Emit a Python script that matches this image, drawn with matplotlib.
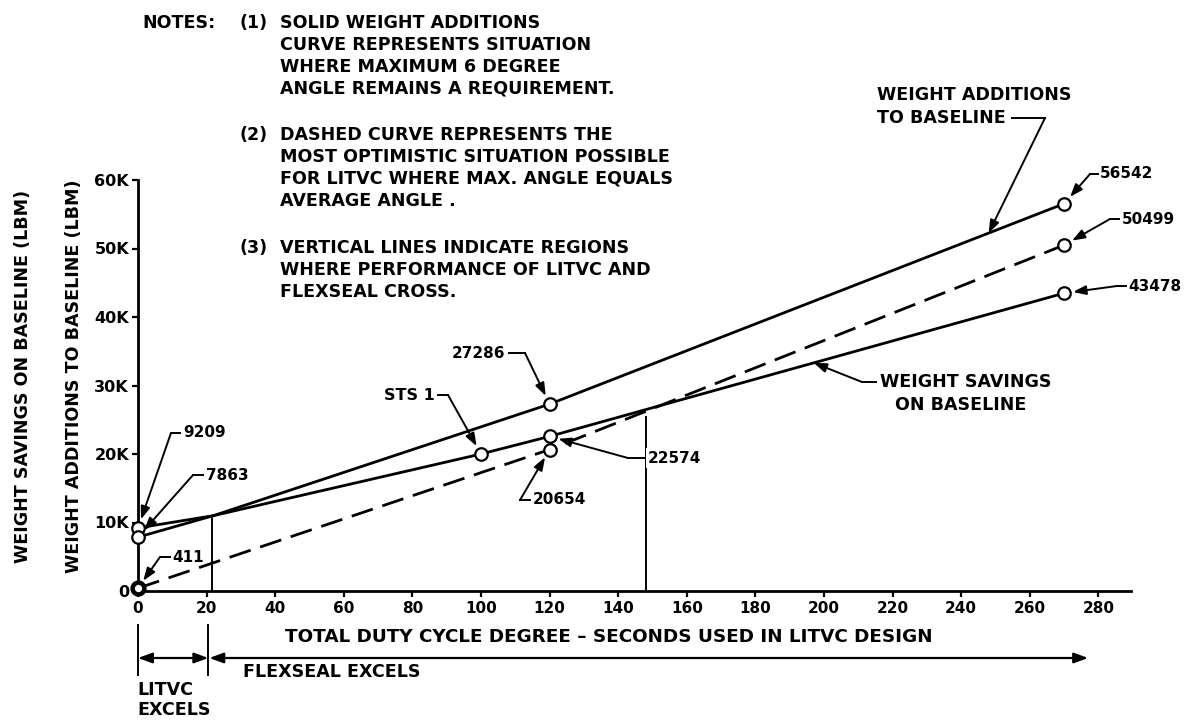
import matplotlib
matplotlib.use('Agg')
import matplotlib.pyplot as plt
import numpy as np
from matplotlib.lines import Line2D

# ---------------- data ----------------
x_ticks = list(range(0, 281, 20))
y_ticks = [0, 10000, 20000, 30000, 40000, 50000, 60000]
y_tick_labels = ['0', '10K', '20K', '30K', '40K', '50K', '60K']

# weight additions to baseline (solid, upper)
add_x = [0, 22, 120, 270]
add_y = [9209, 11000, 27286, 56542]
add_mark_x = [0, 120, 270]
add_mark_y = [9209, 27286, 56542]

# weight savings on baseline (solid, lower)
sav_x = [0, 22, 100, 120, 270]
sav_y = [7863, 11000, 20000, 22574, 43478]
sav_mark_x = [0, 100, 120, 270]
sav_mark_y = [7863, 20000, 22574, 43478]

# optimistic (dashed)
opt_x = [0, 120, 270]
opt_y = [411, 20654, 50499]

# vertical crossing lines
cross_x = [21.5, 148]
cross_top = [11000, 25600]

# point labels: text, x, y
point_labels = [('9209', 0, 9209), ('7863', 0, 7863), ('411', 0, 411),
                ('27286', 120, 27286), ('STS 1', 100, 20000),
                ('22574', 120, 22574), ('20654', 120, 20654),
                ('56542', 270, 56542), ('50499', 270, 50499),
                ('43478', 270, 43478)]

notes = [
    ('(1)', ['SOLID WEIGHT ADDITIONS', 'CURVE REPRESENTS SITUATION',
             'WHERE MAXIMUM 6 DEGREE', 'ANGLE REMAINS A REQUIREMENT.']),
    ('(2)', ['DASHED CURVE REPRESENTS THE', 'MOST OPTIMISTIC SITUATION POSSIBLE',
             'FOR LITVC WHERE MAX. ANGLE EQUALS', 'AVERAGE ANGLE .']),
    ('(3)', ['VERTICAL LINES INDICATE REGIONS', 'WHERE PERFORMANCE OF LITVC AND',
             'FLEXSEAL CROSS.']),
]

# ---------------- layout ----------------
W, H = 1192, 721
plt.rcParams['font.family'] = ['DejaVu Sans']
plt.rcParams['font.weight'] = 'bold'
FS = 11      # numbers
FT = 12.6    # capital text

fig = plt.figure(figsize=(W / 100, H / 100), dpi=100)
L, R, T, B = 138, 1131, 180, 591
ax = fig.add_axes([L / W, 1 - B / H, (R - L) / W, (B - T) / H])
ax.set_xlim(0, 289.5)
ax.set_ylim(0, 60000)
for s in ['top', 'right']:
    ax.spines[s].set_visible(False)
for s in ['left', 'bottom']:
    ax.spines[s].set_linewidth(2.0)
ax.set_xticks(x_ticks)
ax.set_xticklabels([str(v) for v in x_ticks])
ax.set_yticks(y_ticks)
ax.set_yticklabels(y_tick_labels)
ax.tick_params(axis='x', direction='out', length=4.5, width=1.6, labelsize=FS, pad=2.5)
ax.tick_params(axis='y', direction='out', length=4.5, width=1.6, labelsize=11.5, pad=2.0)
for lab in ax.get_xticklabels() + ax.get_yticklabels():
    lab.set_fontweight('bold')

lw = 2.0
ax.plot(add_x, add_y, color='k', lw=lw, solid_capstyle='round', zorder=3)
ax.plot(sav_x, sav_y, color='k', lw=lw, solid_capstyle='round', zorder=3)
ax.plot(opt_x, opt_y, color='k', lw=lw, linestyle=(0, (8, 3.6)), zorder=3)
ax.vlines(cross_x, 0, cross_top, color='k', lw=1.4, zorder=2)

mk = dict(marker='o', markersize=9, markerfacecolor='white', markeredgecolor='k',
          markeredgewidth=1.6, linestyle='none', zorder=5, clip_on=False)
ax.plot(add_mark_x, add_mark_y, **mk)
ax.plot(sav_mark_x, sav_mark_y, **mk)
ax.plot(opt_x[1:], opt_y[1:], **mk)
ax.plot(opt_x[:1], opt_y[:1], **dict(mk, markeredgewidth=3.2, markersize=8.5))


def fx(px):
    return px / W


def fy(py):
    return 1 - py / H


def ftext(px, py, s, ha='left', size=FT, **kw):
    return fig.text(fx(px), fy(py), s, ha=ha, va='center', fontsize=size,
                    fontweight='bold', **kw)


def stub(x0, y0, x1, y1):
    fig.add_artist(Line2D([fx(x0), fx(x1)], [fy(y0), fy(y1)], color='k', lw=1.4,
                          transform=fig.transFigure))


# label layout (pixels, top-left origin): elbow, stub end, text pos, ha
label_layout = {
    '9209': ((171, 433), (180, 433), (183, 433), 'left'),
    '7863': ((193, 475), (203, 475), (206, 475), 'left'),
    '411': ((160, 557), (170, 557), (172, 557), 'left'),
    '27286': ((525, 353), (509, 353), (505, 353), 'right'),
    'STS 1': ((448, 395), (438, 395), (435, 395), 'right'),
    '22574': ((628, 458), (645, 458), (648, 458), 'left'),
    '20654': ((520, 500), (530, 500), (533, 500), 'left'),
    '56542': ((1090, 174), (1098, 174), (1100, 174), 'left'),
    '50499': ((1110, 219), (1119, 219), (1122, 219), 'left'),
    '43478': ((1117, 286), (1126, 286), (1128, 286), 'left'),
}

arrow = dict(arrowstyle='-|>,head_length=0.55,head_width=0.2', lw=1.4, color='k',
             shrinkA=0, shrinkB=6.5, mutation_scale=14)
for text, x, y in point_labels:
    (ex, ey), (sx, sy), (tx, ty), ha = label_layout[text]
    ax.annotate('', xy=(x, y), xycoords='data', xytext=(ex, H - ey),
                textcoords='figure pixels', arrowprops=arrow, annotation_clip=False)
    stub(ex, ey, sx, sy)
    kw = {}
    if text == '22574':
        kw['bbox'] = dict(facecolor='white', edgecolor='none', pad=1.5)
    size = 11.5 if text == 'STS 1' else FS
    ftext(tx, ty, text, ha=ha, size=size, **kw)

# curve name labels
ftext(877, 95, 'WEIGHT ADDITIONS')
ftext(877, 118, 'TO BASELINE')
stub(1012, 118, 1045, 118)
tip_x = 248
ax.annotate('', xy=(tip_x, np.interp(tip_x, add_x, add_y)), xycoords='data',
            xytext=(1045, H - 118), textcoords='figure pixels',
            arrowprops=dict(arrow, shrinkB=0), annotation_clip=False)

ftext(880, 382, 'WEIGHT SAVINGS')
ftext(895, 405, 'ON BASELINE')
stub(862, 382, 876, 382)
tip_x2 = 197
ax.annotate('', xy=(tip_x2, np.interp(tip_x2, sav_x, sav_y)), xycoords='data',
            xytext=(862, H - 382), textcoords='figure pixels',
            arrowprops=dict(arrow, shrinkB=0), annotation_clip=False)

# notes
ftext(142, 23, 'NOTES:')
block_tops = [23, 135, 248]
for (num, lines), y0 in zip(notes, block_tops):
    ftext(240, y0, num)
    for i, line in enumerate(lines):
        ftext(280, y0 + i * 22, line)

# axis titles
fig.text(fx(23), fy(376), 'WEIGHT SAVINGS ON BASELINE (LBM)', rotation=90, ha='center',
         va='center', fontsize=FT, fontweight='bold')
fig.text(fx(74), fy(376), 'WEIGHT ADDITIONS TO BASELINE (LBM)', rotation=90, ha='center',
         va='center', fontsize=FT, fontweight='bold')
ftext(285, 637, 'TOTAL DUTY CYCLE DEGREE \u2013 SECONDS USED IN LITVC DESIGN', size=13.2)

# regions below the axis
region_x = [0, 20.5, 277]
fig.canvas.draw()
pxs = [ax.transData.transform((v, 0))[0] for v in region_x]
for p in pxs[:2]:
    fig.add_artist(Line2D([p / W, p / W], [fy(625), fy(675)], color='k', lw=1.4,
                          transform=fig.transFigure))
ay = H - 658
dbl = dict(arrowstyle='<|-|>,head_length=0.6,head_width=0.22', lw=1.6, color='k',
           shrinkA=0, shrinkB=0, mutation_scale=14)
fig.add_artist(matplotlib.patches.FancyArrowPatch((pxs[0], ay), (pxs[1], ay),
                                                  transform=None, **dbl))
fig.add_artist(matplotlib.patches.FancyArrowPatch((pxs[1] + 1, ay), (pxs[2], ay),
                                                  transform=None, **dbl))
ftext(137, 690, 'LITVC')
ftext(137, 710, 'EXCELS')
ftext(243, 672, 'FLEXSEAL EXCELS')

fig.savefig('out.png', dpi=100, facecolor='white')
